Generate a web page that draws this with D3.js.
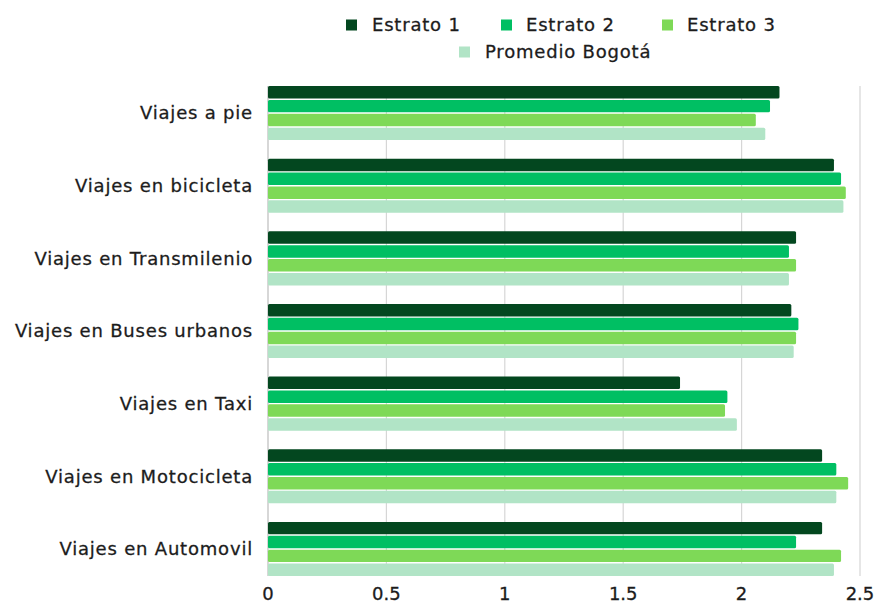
<!DOCTYPE html>
<html>
<head>
<meta charset="utf-8">
<script src="https://cdn.jsdelivr.net/npm/d3@7"></script>
<style>
  body { margin: 0; background: #fff; }
  text { font-family: "DejaVu Sans", sans-serif; fill: #1c1c1c; }
  .lbl { stroke: #1c1c1c; stroke-width: 0.3px; letter-spacing: 0.8px; }
</style>
</head>
<body>
<div class="chart"></div>
<script>
// categories and series
const categories = ["Viajes a pie", "Viajes en bicicleta", "Viajes en Transmilenio",
  "Viajes en Buses urbanos", "Viajes en Taxi", "Viajes en Motocicleta", "Viajes en Automovil"];
const seriesNames = ["Estrato 1", "Estrato 2", "Estrato 3", "Promedio Bogotá"];
const estrato1 = [2.16, 2.39, 2.23, 2.21, 1.74, 2.34, 2.34];
const estrato2 = [2.12, 2.42, 2.20, 2.24, 1.94, 2.40, 2.23];
const estrato3 = [2.06, 2.44, 2.23, 2.23, 1.93, 2.45, 2.42];
const promedio = [2.10, 2.43, 2.20, 2.22, 1.98, 2.40, 2.39];
const xTicks = [0, 0.5, 1, 1.5, 2, 2.5];
const colors = ["#03471f", "#00bf63", "#7ed957", "#b1e4c6"];

const allSeries = [estrato1, estrato2, estrato3, promedio];
const rows = categories.map((c, i) => ({
  cat: c,
  vals: allSeries.map((s, j) => ({ name: seriesNames[j], value: s[i], idx: j }))
}));

const WIDTH = 878, HEIGHT = 606;
const plot = { left: 268, right: 860, top: 86, bottom: 576 };

const svg = d3.select(".chart").append("svg")
  .attr("width", WIDTH).attr("height", HEIGHT);

const x = d3.scaleLinear().domain([0, 2.5]).range([plot.left, plot.right]);
const y0 = d3.scaleBand().domain(categories).range([plot.top, plot.bottom])
  .paddingInner(0.255).paddingOuter(0);
const y1 = d3.scaleBand().domain(d3.range(4)).range([0, y0.bandwidth()]).paddingInner(0.1);

// gridlines
svg.append("g").selectAll("line")
  .data(xTicks)
  .enter().append("line")
  .attr("x1", d => x(d)).attr("x2", d => x(d))
  .attr("y1", plot.top).attr("y2", plot.bottom)
  .attr("stroke", d => d === 0 ? "#bdbdbd" : "#d6d6d6")
  .attr("stroke-width", 1.2);

// bars
const groups = svg.append("g").selectAll("g")
  .data(rows)
  .enter().append("g")
  .attr("transform", d => `translate(0,${y0(d.cat)})`);

groups.selectAll("rect")
  .data(d => d.vals)
  .enter().append("rect")
  .attr("x", x(0))
  .attr("y", d => y1(d.idx))
  .attr("width", d => x(d.value) - x(0))
  .attr("height", y1.bandwidth())
  .attr("rx", 1.5)
  .attr("fill", d => colors[d.idx]);

// category labels
svg.append("g").selectAll("text")
  .data(categories)
  .enter().append("text")
  .attr("class", "lbl")
  .attr("x", 253)
  .attr("y", d => y0(d) + y0.bandwidth() / 2)
  .attr("dy", "0.35em")
  .attr("text-anchor", "end")
  .attr("font-size", 18)
  .text(d => d);

// x tick labels
svg.append("g").selectAll("text")
  .data(xTicks)
  .enter().append("text")
  .attr("class", "lbl")
  .style("letter-spacing", "0px")
  .attr("x", d => x(d))
  .attr("y", 594)
  .attr("dy", "0.35em")
  .attr("text-anchor", "middle")
  .attr("font-size", 18)
  .text(d => d);

// legend
const legendPos = [
  { sx: 346, tx: 372, y: 25 },
  { sx: 501, tx: 526, y: 25 },
  { sx: 662, tx: 687, y: 25 },
  { sx: 459, tx: 485, y: 52 }
];
const legend = svg.append("g").selectAll("g")
  .data(seriesNames)
  .enter().append("g");
legend.append("rect")
  .attr("x", (d, i) => legendPos[i].sx)
  .attr("y", (d, i) => legendPos[i].y - 5.5)
  .attr("width", 11).attr("height", 11)
  .attr("fill", (d, i) => colors[i]);
legend.append("text")
  .attr("class", "lbl")
  .attr("x", (d, i) => legendPos[i].tx)
  .attr("y", (d, i) => legendPos[i].y)
  .attr("dy", "0.35em")
  .attr("font-size", 18)
  .text(d => d);
</script>
</body>
</html>
